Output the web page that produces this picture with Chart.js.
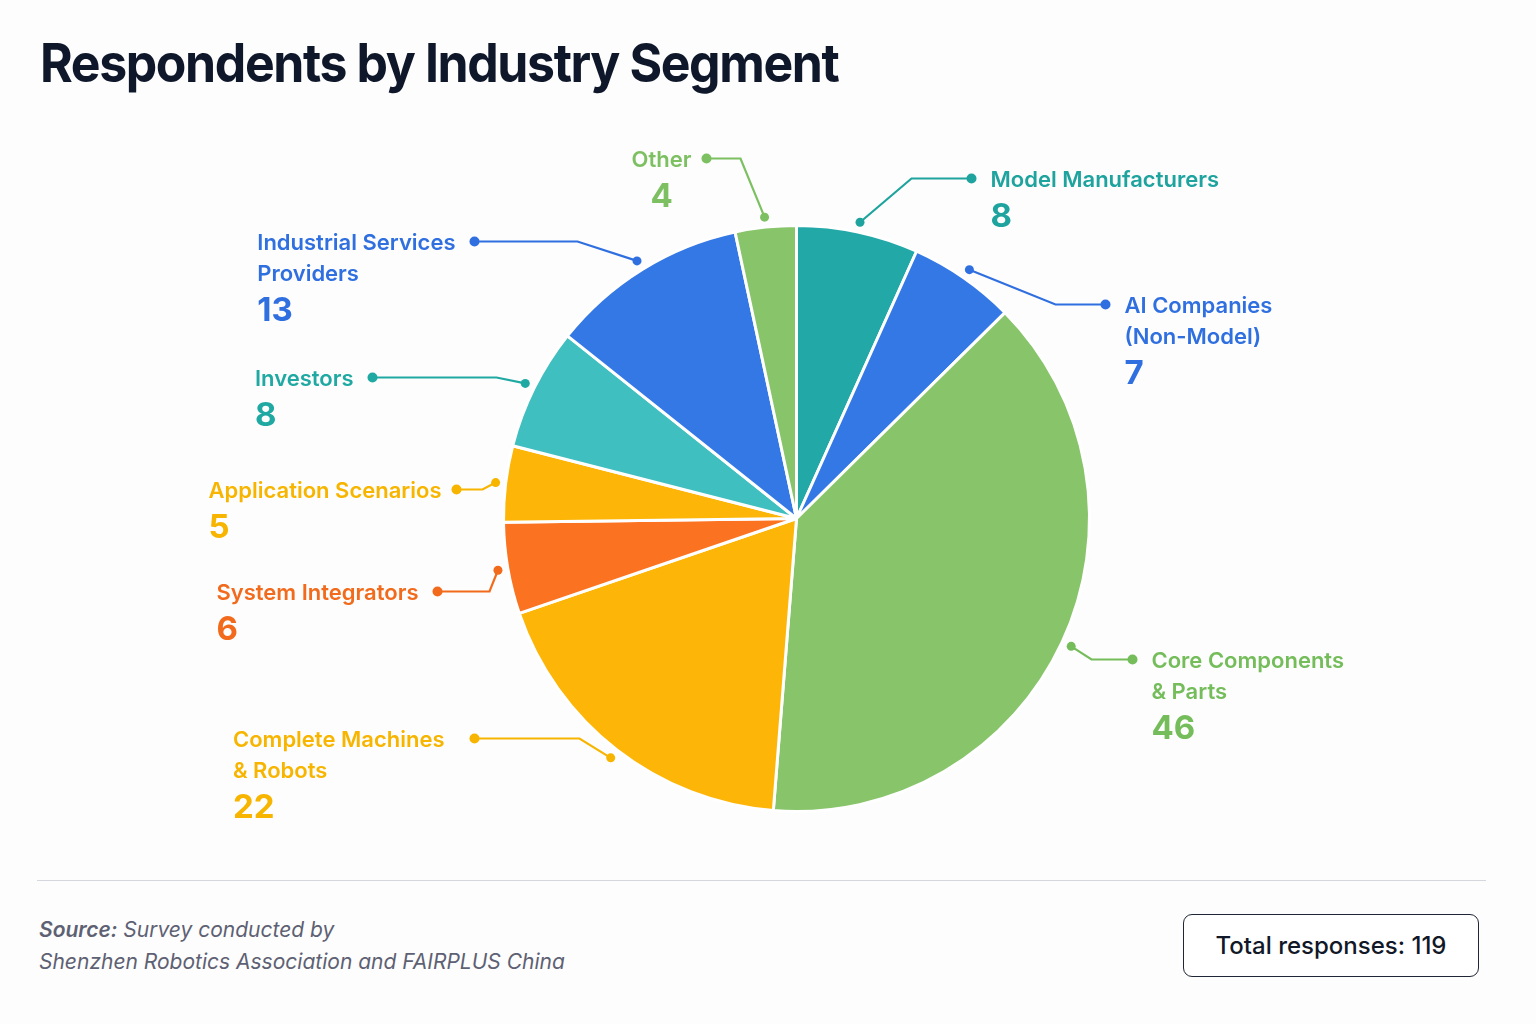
<!DOCTYPE html>
<html>
<head>
<meta charset="utf-8">
<title>Respondents by Industry Segment</title>
<script src="https://cdn.jsdelivr.net/npm/chart.js@4.4.1/dist/chart.umd.min.js"></script>
<style>
  html, body { margin: 0; padding: 0; }
  body {
    width: 1536px; height: 1024px; overflow: hidden; position: relative;
    background: #fdfdfd; font-family: Inter, "Noto Sans", sans-serif;
  }
  h1 {
    position: absolute; left: 40px; top: 36px; margin: 0; white-space: nowrap;
    font-size: 54px; line-height: 1; font-weight: 700; letter-spacing: -1.5px;
    color: #0f172a; transform: scaleX(0.925); transform-origin: left center;
  }
  #wrap { position: absolute; left: 0; top: 120px; width: 1536px; height: 760px; }
  .rule { position: absolute; left: 37px; top: 880px; width: 1449px; border-top: 1.5px solid #d4d7de; }
  .source {
    position: absolute; left: 39px; top: 914px;
    font-size: 21px; line-height: 32px; font-style: italic; color: #5d6173;
  }
  .source b { font-weight: 600; }
  .total {
    position: absolute; left: 1183px; top: 914px; width: 296px; height: 63px;
    box-sizing: border-box; border: 1.5px solid #1f2636; border-radius: 9px;
    display: flex; align-items: center; justify-content: center;
    font-size: 24px; font-weight: 500; color: #111827; background: #fff;
  }
</style>
</head>
<body>
<h1>Respondents by Industry Segment</h1>
<div id="wrap"><canvas id="pie"></canvas></div>
<div class="rule"></div>
<div class="source"><b>Source:</b> Survey conducted by<br>Shenzhen Robotics Association and FAIRPLUS China</div>
<div class="total">Total responses: 119</div>

<script>
// segments, clockwise from 12 o'clock
var segments = [
  ['Model Manufacturers'],
  ['AI Companies', '(Non-Model)'],
  ['Core Components', '& Parts'],
  ['Complete Machines', '& Robots'],
  ['System Integrators'],
  ['Application Scenarios'],
  ['Investors'],
  ['Industrial Services', 'Providers'],
  ['Other']
];
var respondents = [8, 7, 46, 22, 6, 5, 8, 13, 4];

var sliceColors = ['#23a8a8', '#3478e6', '#88c46a', '#fdb608', '#fb7320', '#fdb608', '#3fbfbf', '#3478e6', '#88c46a'];
var textColors  = ['#1ea39e', '#2f6fe0', '#74bd5a', '#f7b500', '#f26b1c', '#f7b500', '#20a9a3', '#2f6fe0', '#7cc061'];

// callout layout: elbow and end dot, relative to the pie centre (px)
var callouts = [
  { side: 'right', elbow: [115, -340], dot: [175, -340] },
  { side: 'right', elbow: [259, -214], dot: [309, -214] },
  { side: 'right', elbow: [295, 141],  dot: [336, 141] },
  { side: 'left',  elbow: [-217, 220], dot: [-322, 220], gap: 30 },
  { side: 'left',  elbow: [-307, 73],  dot: [-359, 73] },
  { side: 'left',  elbow: [-314, -29], dot: [-340, -29], gap: 15 },
  { side: 'left',  elbow: [-300, -141], dot: [-424, -141] },
  { side: 'left',  elbow: [-219, -277], dot: [-322, -277] },
  { side: 'left',  elbow: [-56, -360], dot: [-90, -360], gap: 15, centerNum: true }
];

var labelFont = '600 22px Inter, "Noto Sans", sans-serif';
var numFont = '700 33px Inter, "Noto Sans", sans-serif';

var calloutPlugin = {
  id: 'callouts',
  afterDatasetsDraw: function(chart) {
    var ctx = chart.ctx;
    var meta = chart.getDatasetMeta(0);
    meta.data.forEach(function(arc, i) {
      var p = arc.getProps(['x', 'y', 'startAngle', 'endAngle', 'outerRadius'], true);
      var mid = (p.startAngle + p.endAngle) / 2;
      var r = p.outerRadius + 10;
      var ix = p.x + Math.cos(mid) * r, iy = p.y + Math.sin(mid) * r;
      var c = callouts[i];
      var ex = p.x + c.elbow[0], ey = p.y + c.elbow[1];
      var dx = p.x + c.dot[0], dy = p.y + c.dot[1];
      var col = textColors[i];

      ctx.save();
      ctx.strokeStyle = col;
      ctx.fillStyle = col;
      ctx.lineWidth = 2.2;
      ctx.beginPath();
      ctx.moveTo(ix, iy); ctx.lineTo(ex, ey); ctx.lineTo(dx, dy);
      ctx.stroke();
      ctx.beginPath(); ctx.arc(ix, iy, 4.5, 0, Math.PI * 2); ctx.fill();
      ctx.beginPath(); ctx.arc(dx, dy, 5, 0, Math.PI * 2); ctx.fill();

      var lines = segments[i];
      var gap = c.gap || 19;
      ctx.font = labelFont;
      ctx.textBaseline = 'alphabetic';
      var w0 = ctx.measureText(lines[0]).width;
      var left = c.side === 'right' ? dx + gap : dx - gap - w0;
      ctx.textAlign = 'left';
      var base = dy + 8;
      lines.forEach(function(t, k) {
        ctx.fillText(t, left, base + k * 31);
      });
      var numBase = base + (lines.length - 1) * 31 + 40;
      ctx.font = numFont;
      if (c.centerNum) {
        ctx.textAlign = 'center';
        ctx.fillText(String(respondents[i]), left + w0 / 2, numBase);
      } else {
        ctx.fillText(String(respondents[i]), left, numBase);
      }
      ctx.restore();
    });
  }
};

var ctx = document.getElementById('pie').getContext('2d');
var pieChart = new Chart(ctx, {
  type: 'pie',
  data: {
    labels: segments,
    datasets: [{
      data: respondents,
      backgroundColor: sliceColors,
      borderColor: '#ffffff',
      borderWidth: 3
    }]
  },
  options: {
    responsive: true,
    maintainAspectRatio: false,
    animation: false,
    rotation: 0,
    layout: { padding: { top: 104, bottom: 67, left: 502, right: 445 } },
    plugins: {
      legend: { display: false },
      tooltip: { enabled: false }
    }
  },
  plugins: [calloutPlugin]
});
</script>
</body>
</html>
